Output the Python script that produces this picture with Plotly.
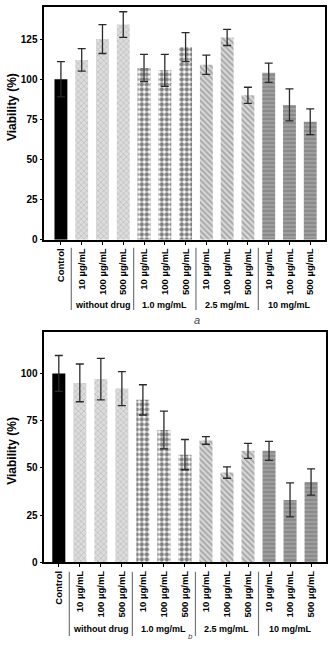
import plotly.graph_objects as go

W, H = 331, 649

# ---------------- data ----------------
tick_labels = ["Control",
               "10 µg/mL", "100 µg/mL", "500 µg/mL",
               "10 µg/mL", "100 µg/mL", "500 µg/mL",
               "10 µg/mL", "100 µg/mL", "500 µg/mL",
               "10 µg/mL", "100 µg/mL", "500 µg/mL"]
group_labels = ["without drug", "1.0 mg/mL", "2.5 mg/mL", "10 mg/mL"]
group_centers = [2, 5, 8, 11]
group_separators = [0.5, 3.5, 6.5, 9.5]
group_slices = [(0, 1), (1, 4), (4, 7), (7, 10), (10, 13)]

viability_a = [100, 112, 125, 134, 107, 105.5, 120, 109, 126, 90, 104, 84, 73.5]
error_a = [11, 7, 9, 8, 8.5, 10, 9, 6, 5, 5, 6, 10, 8]

viability_b = [100, 95, 97, 92, 86, 70, 57, 64.5, 47.5, 59, 59, 33, 42.5]
error_b = [9.5, 10, 11, 9, 8, 10, 8, 2, 3, 4, 5, 9, 7]

panel_labels = ["a", "b"]

# ---------------- styles (one per group) ----------------
styles = [
    dict(color="#000000"),
    dict(color="#d8d8d8", pattern=dict(shape="x", bgcolor="#dcdcdc", fgcolor="#9a9a9a", size=4, solidity=0.3)),
    dict(color="#ffffff", pattern=dict(shape=".", bgcolor="#ffffff", fgcolor="#000000", size=5, solidity=0.6)),
    dict(color="#d8d8d8", pattern=dict(shape="\\", bgcolor="#d8d8d8", fgcolor="#707070", size=4, solidity=0.45)),
    dict(color="#8a8a8a", pattern=dict(shape="-", bgcolor="#8a8a8a", fgcolor="#dadada", size=4, solidity=0.25)),
]

FONT = "Liberation Sans, Arial, sans-serif"
x = list(range(len(tick_labels)))

def px2y(p):
    return 1 - p / H

def px2x(p):
    return p / W

fig = go.Figure()

for i, (vals, errs) in enumerate([(viability_a, error_a), (viability_b, error_b)]):
    suf = "" if i == 0 else "2"
    for (a, b), st in zip(group_slices, styles):
        marker = dict(color=st["color"], line=dict(width=0))
        if "pattern" in st:
            marker["pattern"] = st["pattern"]
        fig.add_trace(go.Bar(
            x=x[a:b], y=vals[a:b], width=0.62,
            xaxis="x" + suf, yaxis="y" + suf,
            marker=marker,
            error_y=dict(type="data", array=errs[a:b], visible=True, color="#2a2a2a",
                         thickness=1.3, width=4),
            showlegend=False,
        ))

# panel geometry in px (top, bottom, left, right)
panels = [(7, 242, 44.3, 325, [-0.8, 12.71], [0, 145], [0, 25, 50, 75, 100, 125]),
          (335, 567.5, 44.3, 326, [-0.69, 12.71], [0, 122], [0, 25, 50, 75, 100])]

axis_common = dict(showline=True, linecolor="black", linewidth=1.6, mirror=True,
                   ticks="outside", ticklen=3, tickcolor="black", tickwidth=1.2,
                   showgrid=False, zeroline=False)

layout = dict(width=W, height=H, margin=dict(l=0, r=0, t=0, b=0),
              paper_bgcolor="white", plot_bgcolor="white",
              font=dict(family=FONT, color="black"), barmode="overlay")

annotations = []
shapes = []
for i, (top, bot, left, right, xr, yr, yt) in enumerate(panels):
    suf = "" if i == 0 else "2"
    layout["xaxis" + suf] = dict(
        domain=[px2x(left), px2x(right)], range=xr, anchor="y" + suf,
        tickvals=x, ticktext=tick_labels, tickangle=-90,
        tickfont=dict(family=FONT, size=9.5, weight="bold", color="black"),
        **axis_common)
    layout["yaxis" + suf] = dict(
        domain=[px2y(bot), px2y(top)], range=yr, anchor="x" + suf,
        tickvals=yt, tickfont=dict(family=FONT, size=10, weight="bold", color="black"),
        **axis_common)
    title_y = 108 if i == 0 else 455
    annotations.append(dict(text="Viability (%)", textangle=-90, x=px2x(12), y=px2y(title_y),
                            xref="paper", yref="paper", showarrow=False,
                            xanchor="center", yanchor="middle",
                            font=dict(family=FONT, size=12, weight="bold", color="black")))
    grp_y = 308 if i == 0 else 635
    sep_top, sep_bot = (250, 313) if i == 0 else (577, 642)
    for gx, gl in zip(group_centers, group_labels):
        annotations.append(dict(text=gl, x=gx, y=px2y(grp_y), xref="x" + suf, yref="paper",
                                showarrow=False, yanchor="middle",
                                font=dict(family=FONT, size=9, weight="bold", color="black")))
    for sx in group_separators:
        shapes.append(dict(type="line", xref="x" + suf, yref="paper", x0=sx, x1=sx,
                           y0=px2y(sep_bot), y1=px2y(sep_top),
                           line=dict(color="#777777", width=1.2)))

annotations.append(dict(text="<i>" + panel_labels[0] + "</i>", x=px2x(197), y=px2y(323),
                        xref="paper", yref="paper", showarrow=False,
                        font=dict(family=FONT, size=11, color="#444444")))
annotations.append(dict(text="<i>" + panel_labels[1] + "</i>", x=px2x(190), y=0,
                        xref="paper", yref="paper", showarrow=False, yanchor="bottom",
                        font=dict(family=FONT, size=8, color="#444444")))

layout["annotations"] = annotations
layout["shapes"] = shapes
fig.update_layout(**layout)

fig.write_html("out.html")
